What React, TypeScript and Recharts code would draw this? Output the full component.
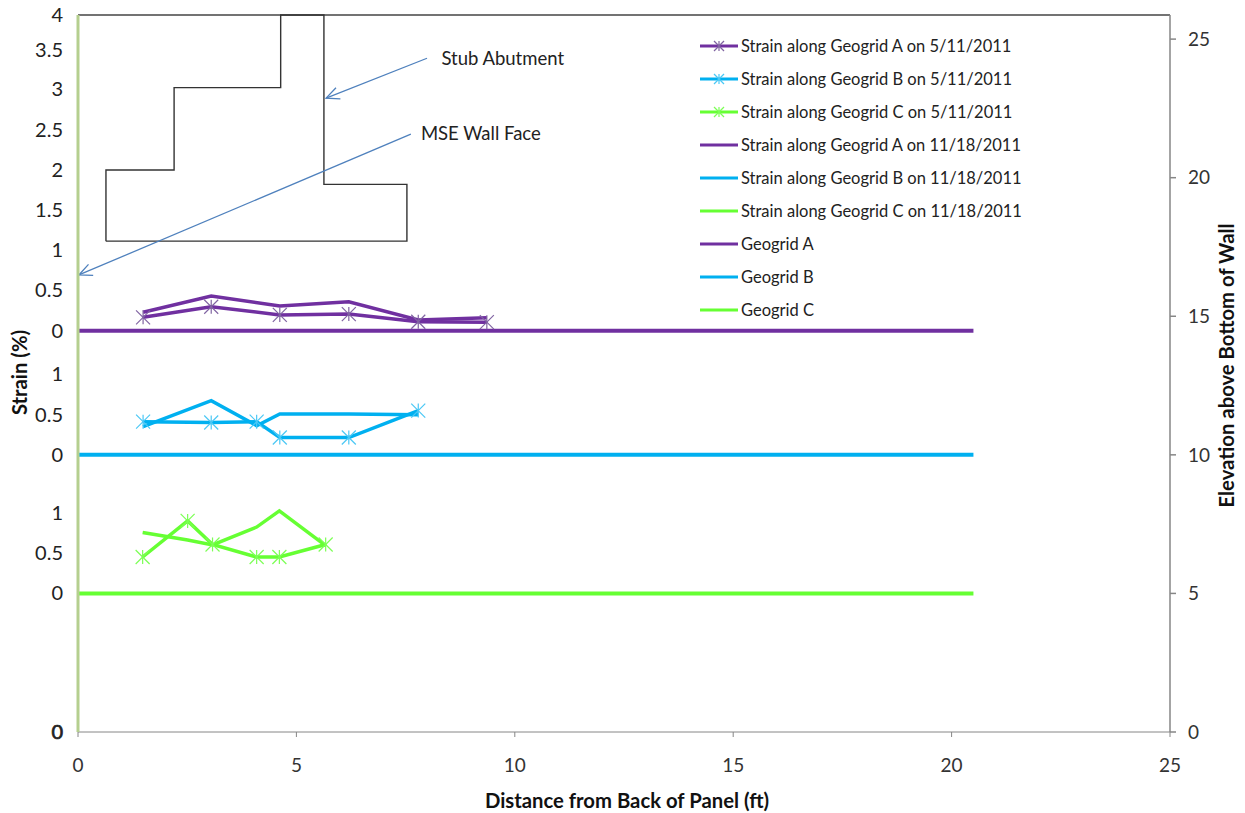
import React from 'react'
import {
  ComposedChart,
  Line,
  XAxis,
  YAxis,
  Legend,
  ReferenceLine,
  ReferenceDot,
} from 'recharts'

const PURPLE = '#7030A0'
const BLUE = '#00B0F0'
const GREEN = '#66FF33'
const FONT = 'Lato, sans-serif'

// elevation of each geogrid, and how much elevation one percent of strain spans on the plot
const baseA = 14.48
const baseB = 10
const baseC = 5
const strainScale = 2.92
const yMax = 25.87

const xA = [1.49, 3.05, 4.62, 6.2, 7.79, 9.36]
const xB = [1.49, 3.05, 4.09, 4.62, 6.2, 7.79]
const xC = [1.48, 2.51, 3.08, 4.09, 4.61, 5.67]

const strainAMay = [0.165, 0.296, 0.195, 0.205, 0.11, 0.105]
const strainBMay = [0.41, 0.4, 0.41, 0.214, 0.214, 0.547]
const strainCMay = [0.45, 0.896, 0.605, 0.45, 0.45, 0.605]
const strainANov = [0.227, 0.428, 0.305, 0.358, 0.132, 0.16]
const strainBNov = [0.35, 0.67, 0.36, 0.506, 0.506, 0.494]
const strainCNov = [0.753, 0.66, 0.6, 0.82, 1.02, 0.59]

const gridX = [0, 20.5]
const abutmentX = [0.64, 0.64, 2.2, 2.2, 4.64, 4.64, 5.63, 5.63, 7.53, 7.53, 0.64]
const abutmentY = [17.71, 20.28, 20.28, 23.25, 23.25, 25.87, 25.87, 19.76, 19.76, 17.71, 17.71]

const xTicks = [0, 5, 10, 15, 20, 25]
const rightTicks = [0, 5, 10, 15, 20, 25]
const leftTicks = [0, 5, 6.46, 7.9, 10, 11.44, 12.91, 14.47, 15.95, 17.39, 18.83, 20.27, 21.72, 23.2, 24.6, 25.87]
const leftLabels = ['0', '0', '0.5', '1', '0', '0.5', '1', '0', '0.5', '1', '1.5', '2', '2.5', '3', '3.5', '4']

const legendNames = [
  'Strain along Geogrid A on 5/11/2011',
  'Strain along Geogrid B on 5/11/2011',
  'Strain along Geogrid C on 5/11/2011',
  'Strain along Geogrid A on 11/18/2011',
  'Strain along Geogrid B on 11/18/2011',
  'Strain along Geogrid C on 11/18/2011',
  'Geogrid A',
  'Geogrid B',
  'Geogrid C',
]

const strainPoints = (xs: number[], strains: number[], base: number) =>
  xs.map((x, i) => ({ x, y: base + strains[i] * strainScale }))
const gridPoints = (base: number) => gridX.map(x => ({ x, y: base }))
const abutment = abutmentX.map((x, i) => ({ x, y: abutmentY[i] }))

const markerColors: Record<string, string> = {
  [PURPLE]: '#8064A2',
  [BLUE]: '#4BC8F5',
  [GREEN]: '#7CFF55',
}

const Star = ({ cx, cy, color, size = 7 }: { cx: number; cy: number; color: string; size?: number }) => (
  <g stroke={color} strokeWidth={1.2}>
    <line x1={cx - size} y1={cy - size} x2={cx + size} y2={cy + size} />
    <line x1={cx - size} y1={cy + size} x2={cx + size} y2={cy - size} />
    <line x1={cx} y1={cy - size} x2={cx} y2={cy + size} />
  </g>
)

const starDot = (color: string) => (props: any) => (
  <Star key={props.index} cx={props.cx} cy={props.cy} color={markerColors[color]} />
)

const leftTick = (props: any) => {
  const doubled = props.index === 0
  return (
    <text
      x={props.x}
      y={props.y}
      dy={7}
      textAnchor="end"
      fontFamily={FONT}
      fontSize={20}
      fill="#222"
      stroke={doubled ? '#222' : 'none'}
      strokeWidth={doubled ? 0.7 : 0}
    >
      {leftLabels[props.index]}
    </text>
  )
}

const LegendRows = ({ payload }: any) => (
  <div>
    {(payload || [])
      .filter((item: any) => legendNames.includes(item.value))
      .map((item: any) => (
        <div key={item.value} style={{ display: 'flex', alignItems: 'center', height: 33 }}>
          <svg width={41} height={16} style={{ flex: 'none' }}>
            <line x1={0} y1={8} x2={38} y2={8} stroke={item.color} strokeWidth={3} />
            {String(item.value).includes('5/11') && <Star cx={19} cy={8} color={markerColors[item.color]} size={5} />}
          </svg>
          <span style={{ fontFamily: FONT, fontSize: 16.5, color: '#222', whiteSpace: 'nowrap' }}>{item.value}</span>
        </div>
      ))}
  </div>
)

const noDot = false

export default function App() {
  return (
    <div style={{ position: 'absolute', left: 0, top: 0, background: '#fff' }}>
      <ComposedChart width={1245} height={813} margin={{ top: 15, right: 0, bottom: 0, left: 0 }}>
        <defs>
          <marker id="openArrow" markerWidth={16} markerHeight={14} refX={14} refY={7} orient="auto" markerUnits="userSpaceOnUse">
            <path d="M1,1 L14,7 L1,13" fill="none" stroke="#4F81BD" strokeWidth={1.3} />
          </marker>
        </defs>
        <XAxis
          type="number"
          dataKey="x"
          domain={[0, 25]}
          ticks={xTicks}
          interval={0}
          height={81}
          stroke="#868686"
          tickSize={5}
          tickMargin={22}
          tick={{ fontFamily: FONT, fontSize: 19, fill: '#333' }}
          label={{
            value: 'Distance from Back of Panel (ft)',
            position: 'insideBottom',
            offset: 5,
            dx: 3,
            style: { fontFamily: FONT, fontSize: 20.3, fontWeight: 700, fill: '#111' },
          }}
        />
        <YAxis
          yAxisId="left"
          type="number"
          domain={[0, yMax]}
          ticks={leftTicks}
          interval={0}
          width={78}
          stroke="#B5CF8F"
          strokeWidth={3}
          tickLine={false}
          tickMargin={9}
          tick={leftTick}
          label={{
            value: 'Strain (%)',
            angle: -90,
            position: 'insideLeft',
            offset: 20,
            dy: -1,
            style: { fontFamily: FONT, fontSize: 20.3, fontWeight: 700, fill: '#111', textAnchor: 'middle' },
          }}
        />
        <YAxis
          yAxisId="right"
          orientation="right"
          type="number"
          domain={[0, yMax]}
          ticks={rightTicks}
          interval={0}
          width={75}
          stroke="#868686"
          strokeWidth={1.5}
          tickSize={6}
          tickMargin={12}
          tick={{ fontFamily: FONT, fontSize: 19, fill: '#333' }}
          label={{
            value: 'Elevation above Bottom of Wall',
            angle: -90,
            position: 'insideRight',
            offset: 18,
            dy: -8,
            style: { fontFamily: FONT, fontSize: 20.3, fontWeight: 700, fill: '#111', textAnchor: 'middle' },
          }}
        />
        <Legend
          layout="vertical"
          align="center"
          verticalAlign="middle"
          content={<LegendRows />}
          itemSorter={(item: any) => legendNames.indexOf(item.value)}
          wrapperStyle={{ left: 700, top: 29, width: 340, margin: 0 }}
        />
        <ReferenceLine
          yAxisId="right"
          segment={[{ x: 0, y: yMax }, { x: 25, y: yMax }]}
          stroke="#444"
          strokeWidth={1.3}
        />
        <Line yAxisId="left" legendType="none" name="Stub Abutment" data={abutment} dataKey="y" stroke="#333" strokeWidth={1.4} dot={noDot} isAnimationActive={false} />
        <Line yAxisId="right" name={legendNames[0]} data={strainPoints(xA, strainAMay, baseA)} dataKey="y" stroke={PURPLE} strokeWidth={3.5} dot={starDot(PURPLE)} isAnimationActive={false} />
        <Line yAxisId="right" name={legendNames[1]} data={strainPoints(xB, strainBMay, baseB)} dataKey="y" stroke={BLUE} strokeWidth={3.5} dot={starDot(BLUE)} isAnimationActive={false} />
        <Line yAxisId="right" name={legendNames[2]} data={strainPoints(xC, strainCMay, baseC)} dataKey="y" stroke={GREEN} strokeWidth={3.5} dot={starDot(GREEN)} isAnimationActive={false} />
        <Line yAxisId="right" name={legendNames[3]} data={strainPoints(xA, strainANov, baseA)} dataKey="y" stroke={PURPLE} strokeWidth={3.5} dot={noDot} isAnimationActive={false} />
        <Line yAxisId="right" name={legendNames[4]} data={strainPoints(xB, strainBNov, baseB)} dataKey="y" stroke={BLUE} strokeWidth={3.5} dot={noDot} isAnimationActive={false} />
        <Line yAxisId="right" name={legendNames[5]} data={strainPoints(xC, strainCNov, baseC)} dataKey="y" stroke={GREEN} strokeWidth={3.5} dot={noDot} isAnimationActive={false} />
        <Line yAxisId="right" name={legendNames[6]} data={gridPoints(baseA)} dataKey="y" stroke={PURPLE} strokeWidth={4} dot={noDot} isAnimationActive={false} />
        <Line yAxisId="right" name={legendNames[7]} data={gridPoints(baseB)} dataKey="y" stroke={BLUE} strokeWidth={4} dot={noDot} isAnimationActive={false} />
        <Line yAxisId="right" name={legendNames[8]} data={gridPoints(baseC)} dataKey="y" stroke={GREEN} strokeWidth={4} dot={noDot} isAnimationActive={false} />
        <ReferenceLine
          yAxisId="right"
          segment={[{ x: 7.99, y: 24.31 }, { x: 5.68, y: 22.87 }]}
          stroke="#4F81BD"
          strokeWidth={1.3}
          markerEnd="url(#openArrow)"
        />
        <ReferenceLine
          yAxisId="right"
          segment={[{ x: 7.62, y: 21.57 }, { x: 0.02, y: 16.49 }]}
          stroke="#4F81BD"
          strokeWidth={1.3}
          markerEnd="url(#openArrow)"
        />
        <ReferenceDot
          yAxisId="right"
          x={8.32}
          y={24.31}
          r={0}
          stroke="none"
          label={{ value: 'Stub Abutment', position: 'right', offset: 0, style: { fontFamily: FONT, fontSize: 18.5, fill: '#222' } }}
        />
        <ReferenceDot
          yAxisId="right"
          x={7.85}
          y={21.6}
          r={0}
          stroke="none"
          label={{ value: 'MSE Wall Face', position: 'right', offset: 0, style: { fontFamily: FONT, fontSize: 18.5, fill: '#222' } }}
        />
      </ComposedChart>
    </div>
  )
}
